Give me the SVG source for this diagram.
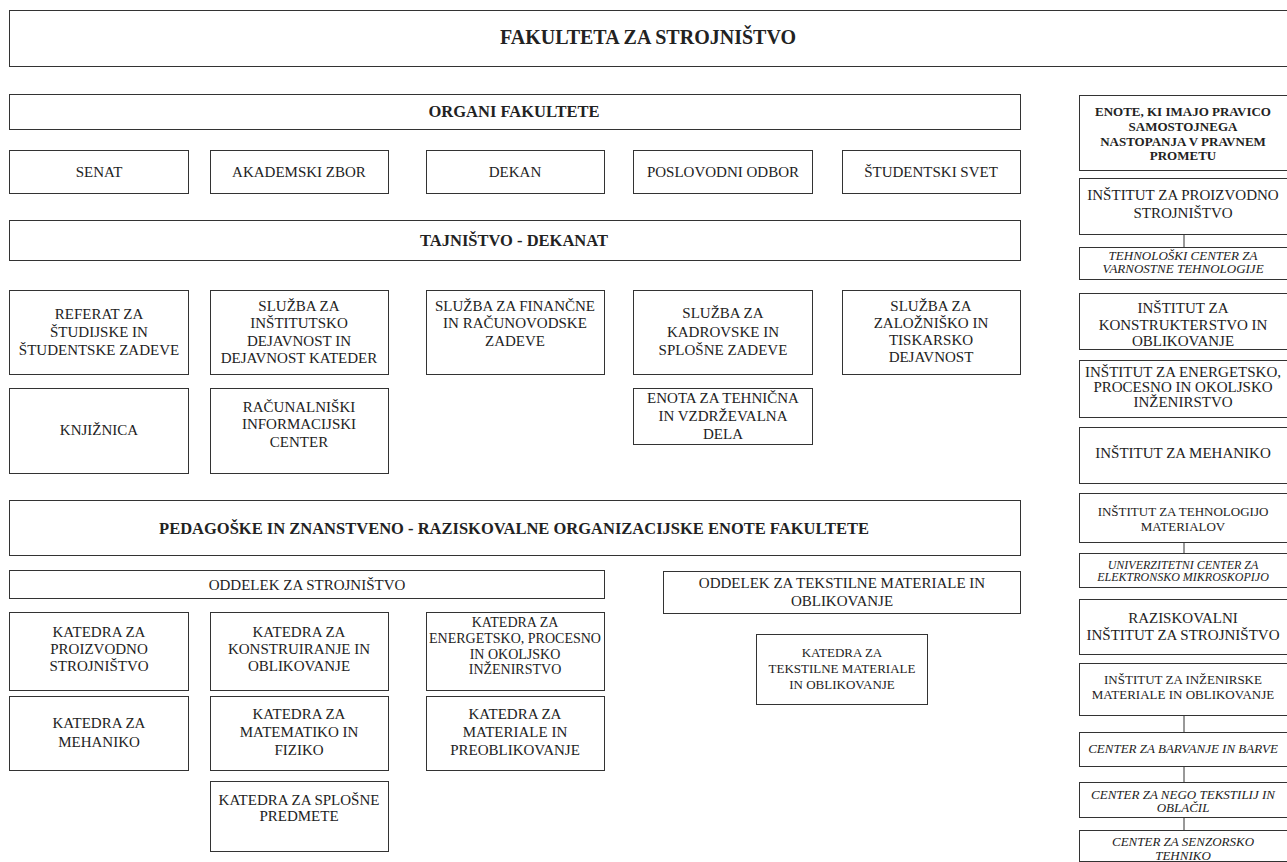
<svg xmlns="http://www.w3.org/2000/svg" width="1287" height="862" viewBox="0 0 1287 862">
<style>
rect{fill:#fff;stroke:#333;stroke-width:1}
text{font-family:"Liberation Serif","Times New Roman",serif;fill:#222;text-anchor:middle;font-size:15px}
.b{font-weight:bold;font-size:16.5px}
.t{font-size:20px;font-weight:bold}
.s{font-size:14px}
.x{font-size:13px}
.i{font-style:italic;font-size:13px}
.u{font-style:italic;font-size:12px}
.h{font-weight:bold;font-size:13px}
.c line{stroke:#333;stroke-width:1}
</style>
<rect x="0" y="0" width="1287" height="862" style="stroke:none"/>
<g id="fakulteta"><rect x="9.5" y="10.5" width="1290" height="56"/><text class="t" x="648" y="44">FAKULTETA ZA STROJNIŠTVO</text></g>
<g id="organi"><rect x="9.5" y="94.5" width="1011" height="35"/><text class="b" x="514" y="117">ORGANI FAKULTETE</text></g>
<g id="senat"><rect x="9.5" y="150.5" width="179" height="43"/><text x="99" y="177">SENAT</text></g>
<g id="akademski"><rect x="210.5" y="150.5" width="178" height="43"/><text x="299" y="177">AKADEMSKI ZBOR</text></g>
<g id="dekan"><rect x="426.5" y="150.5" width="178" height="43"/><text x="515" y="177">DEKAN</text></g>
<g id="poslovodni"><rect x="633.5" y="150.5" width="179" height="43"/><text x="723" y="177">POSLOVODNI ODBOR</text></g>
<g id="studentski"><rect x="842.5" y="150.5" width="178" height="43"/><text x="931" y="177">ŠTUDENTSKI SVET</text></g>
<g id="tajnistvo"><rect x="9.5" y="220.5" width="1011" height="40"/><text class="b" x="514" y="246">TAJNIŠTVO - DEKANAT</text></g>
<g id="referat"><rect x="9.5" y="290.5" width="179" height="84"/><text x="99" y="319">REFERAT ZA</text><text x="99" y="337">ŠTUDIJSKE IN</text><text x="99" y="355">ŠTUDENTSKE ZADEVE</text></g>
<g id="sluzba-institutsko"><rect x="210.5" y="290.5" width="178" height="84"/><text x="299" y="311">SLUŽBA ZA</text><text x="299" y="328">INŠTITUTSKO</text><text x="299" y="346">DEJAVNOST IN</text><text x="299" y="363">DEJAVNOST KATEDER</text></g>
<g id="sluzba-financne"><rect x="426.5" y="290.5" width="178" height="84"/><text x="515" y="311">SLUŽBA ZA FINANČNE</text><text x="515" y="328">IN RAČUNOVODSKE</text><text x="515" y="346">ZADEVE</text></g>
<g id="sluzba-kadrovske"><rect x="633.5" y="290.5" width="179" height="84"/><text x="723" y="318">SLUŽBA ZA</text><text x="723" y="337">KADROVSKE IN</text><text x="723" y="355">SPLOŠNE ZADEVE</text></g>
<g id="sluzba-zaloznisko"><rect x="842.5" y="290.5" width="178" height="84"/><text x="931" y="311">SLUŽBA ZA</text><text x="931" y="328">ZALOŽNIŠKO IN</text><text x="931" y="345">TISKARSKO</text><text x="931" y="362">DEJAVNOST</text></g>
<g id="knjiznica"><rect x="9.5" y="388.5" width="179" height="85"/><text x="99" y="435">KNJIŽNICA</text></g>
<g id="racunalniski"><rect x="210.5" y="388.5" width="178" height="85"/><text x="299" y="412">RAČUNALNIŠKI</text><text x="299" y="429">INFORMACIJSKI</text><text x="299" y="447">CENTER</text></g>
<g id="enota-tehnicna"><rect x="633.5" y="388.5" width="179" height="56"/><text x="723" y="403">ENOTA ZA TEHNIČNA</text><text x="723" y="421">IN VZDRŽEVALNA</text><text x="723" y="439">DELA</text></g>
<g id="pedagoske"><rect x="9.5" y="500.5" width="1011" height="55"/><text class="b" x="514" y="534">PEDAGOŠKE IN ZNANSTVENO - RAZISKOVALNE ORGANIZACIJSKE ENOTE FAKULTETE</text></g>
<g id="oddelek-strojnistvo"><rect x="9.5" y="570.5" width="595" height="28"/><text x="307" y="590">ODDELEK ZA STROJNIŠTVO</text></g>
<g id="oddelek-tekstilne"><rect x="663.5" y="571.5" width="357" height="42"/><text x="842" y="588">ODDELEK ZA TEKSTILNE MATERIALE IN</text><text x="842" y="606">OBLIKOVANJE</text></g>
<g id="katedra-proizvodno"><rect x="9.5" y="612.5" width="179" height="78"/><text x="99" y="637">KATEDRA ZA</text><text x="99" y="654">PROIZVODNO</text><text x="99" y="671">STROJNIŠTVO</text></g>
<g id="katedra-konstruiranje"><rect x="210.5" y="612.5" width="178" height="78"/><text x="299" y="637">KATEDRA ZA</text><text x="299" y="654">KONSTRUIRANJE IN</text><text x="299" y="671">OBLIKOVANJE</text></g>
<g id="katedra-energetsko"><rect x="426.5" y="612.5" width="178" height="78"/><text class="s" x="515" y="627">KATEDRA ZA</text><text class="s" x="515" y="643">ENERGETSKO, PROCESNO</text><text class="s" x="515" y="659">IN OKOLJSKO</text><text class="s" x="515" y="674">INŽENIRSTVO</text></g>
<g id="katedra-tekstilne"><rect x="756.5" y="634.5" width="171" height="70"/><text class="x" x="842" y="657">KATEDRA ZA</text><text class="x" x="842" y="673">TEKSTILNE MATERIALE</text><text class="x" x="842" y="689">IN OBLIKOVANJE</text></g>
<g id="katedra-mehaniko"><rect x="9.5" y="696.5" width="179" height="74"/><text x="99" y="728">KATEDRA ZA</text><text x="99" y="747">MEHANIKO</text></g>
<g id="katedra-matematiko"><rect x="210.5" y="696.5" width="178" height="74"/><text x="299" y="719">KATEDRA ZA</text><text x="299" y="737">MATEMATIKO IN</text><text x="299" y="755">FIZIKO</text></g>
<g id="katedra-materiale"><rect x="426.5" y="696.5" width="178" height="74"/><text x="515" y="719">KATEDRA ZA</text><text x="515" y="737">MATERIALE IN</text><text x="515" y="755">PREOBLIKOVANJE</text></g>
<g id="katedra-splosne"><rect x="210.5" y="781.5" width="178" height="70"/><text x="299" y="805">KATEDRA ZA SPLOŠNE</text><text x="299" y="821">PREDMETE</text></g>
<g class="c" id="connectors">
<line x1="1184" y1="234" x2="1184" y2="247"/>
<line x1="1184" y1="542" x2="1184" y2="553"/>
<line x1="1184" y1="715" x2="1184" y2="732"/>
<line x1="1184" y1="766" x2="1184" y2="782"/>
<line x1="1184" y1="817" x2="1184" y2="830"/>
</g>
<g id="enote-header"><rect x="1079.5" y="95.5" width="220" height="75"/><text class="h" x="1183" y="116">ENOTE, KI IMAJO PRAVICO</text><text class="h" x="1183" y="131">SAMOSTOJNEGA</text><text class="h" x="1183" y="146">NASTOPANJA V PRAVNEM</text><text class="h" x="1183" y="160">PROMETU</text></g>
<g id="inst-proizvodno"><rect x="1079.5" y="178.5" width="220" height="56"/><text x="1183" y="200">INŠTITUT ZA PROIZVODNO</text><text x="1183" y="218">STROJNIŠTVO</text></g>
<g id="tehnoloski-center"><rect x="1079.5" y="247.5" width="220" height="32"/><text class="i" x="1183" y="260">TEHNOLOŠKI CENTER ZA</text><text class="i" x="1183" y="273">VARNOSTNE TEHNOLOGIJE</text></g>
<g id="inst-konstrukterstvo"><rect x="1079.5" y="293.5" width="220" height="56"/><text x="1183" y="313">INŠTITUT ZA</text><text x="1183" y="330">KONSTRUKTERSTVO IN</text><text x="1183" y="346">OBLIKOVANJE</text></g>
<g id="inst-energetsko"><rect x="1079.5" y="360.5" width="220" height="57"/><text x="1183" y="377">INŠTITUT ZA ENERGETSKO,</text><text x="1183" y="392">PROCESNO IN OKOLJSKO</text><text x="1183" y="407">INŽENIRSTVO</text></g>
<g id="inst-mehaniko"><rect x="1079.5" y="427.5" width="220" height="56"/><text x="1183" y="458">INŠTITUT ZA MEHANIKO</text></g>
<g id="inst-tehnologijo"><rect x="1079.5" y="493.5" width="220" height="49"/><text class="x" x="1183" y="516">INŠTITUT ZA TEHNOLOGIJO</text><text class="x" x="1183" y="531">MATERIALOV</text></g>
<g id="univerzitetni-center"><rect x="1079.5" y="553.5" width="220" height="34"/><text class="u" x="1183" y="569">UNIVERZITETNI CENTER ZA</text><text class="u" x="1183" y="581">ELEKTRONSKO MIKROSKOPIJO</text></g>
<g id="raziskovalni"><rect x="1079.5" y="599.5" width="220" height="55"/><text x="1183" y="623">RAZISKOVALNI</text><text x="1183" y="640">INŠTITUT ZA STROJNIŠTVO</text></g>
<g id="inst-inzenirske"><rect x="1079.5" y="663.5" width="220" height="52"/><text class="x" x="1183" y="684">INŠTITUT ZA INŽENIRSKE</text><text class="x" x="1183" y="699">MATERIALE IN OBLIKOVANJE</text></g>
<g id="center-barvanje"><rect x="1079.5" y="732.5" width="220" height="34"/><text class="i" x="1183" y="753">CENTER ZA BARVANJE IN BARVE</text></g>
<g id="center-nego"><rect x="1079.5" y="782.5" width="220" height="35"/><text class="i" x="1183" y="799">CENTER ZA NEGO TEKSTILIJ IN</text><text class="i" x="1183" y="812">OBLAČIL</text></g>
<g id="center-senzorsko"><rect x="1079.5" y="830.5" width="220" height="31"/><text class="i" x="1183" y="846">CENTER ZA SENZORSKO</text><text class="i" x="1183" y="860">TEHNIKO</text></g>
</svg>
